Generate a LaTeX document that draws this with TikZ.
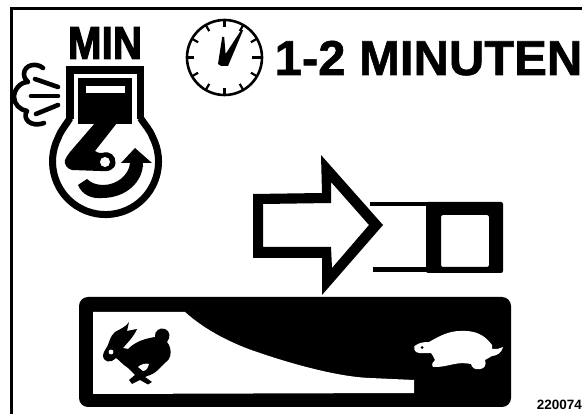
\documentclass[tikz,border=0pt]{standalone}
\usepackage{fontspec}
\setmainfont{Liberation Sans}
\newfontfamily\heavyfont[BoldFeatures={FakeBold=2.8}]{Liberation Sans}
\newfontfamily\midfont[BoldFeatures={FakeBold=1.2}]{Liberation Sans}
\begin{document}
\begin{tikzpicture}[x=1pt,y=-1pt,
  ink/.style={line width=4.6pt,draw=black,line cap=round,line join=round},
  clocktick/.style={line width=2.2pt,draw=black},
  boldtext/.style={inner sep=0pt,font=\bfseries}]
\useasboundingbox (0,0) rectangle (582,414);
\fill[white] (0,0) rectangle (582,414);
% frame
\draw[line width=3pt] (11.5,414) -- (11.5,8.5) -- (582,8.5);
% MIN
\node[inner sep=0pt,anchor=center,xscale=0.88] (mintext) at (105,43) {\heavyfont\bfseries\fontsize{46pt}{46pt}\selectfont MIN};
% engine outline
\draw[line width=7.5pt,line join=miter] (70,119) -- (70,70) -- (140.5,70) -- (140.5,119);
\draw[line width=7pt] (70,118) .. controls (66,125) and (61,130) .. (58.3,137.5)
  arc[start angle=207,end angle=-27,x radius=53,y radius=53]
  .. controls (150,130) and (145,125) .. (140.5,118);
\fill (78,78) rectangle (132,124);
\fill[white] (86,86) rectangle (125,93);
% rod and crank
\fill (95,123) -- (117,123) -- (95,151) .. controls (98,153) and (100,153) .. (102,153)
  .. controls (110,150) and (116,156) .. (115.5,163)
  .. controls (115,170) and (108,172) .. (100,171)
  -- (72,170) .. controls (67,169) and (64,164) .. (65,160)
  .. controls (66,157) and (68,155) .. (70,152) -- cycle;
\fill[white] (105,162) circle[radius=5];
% rotation arrow
\fill (78,185) .. controls (82,195) and (92,199) .. (102,198)
  .. controls (126,198) and (143,182) .. (143,163)
  -- (152,163) -- (135,148) -- (121,163) -- (130,163)
  .. controls (129,175) and (117,185) .. (103,185)
  .. controls (97,185) and (91,183) .. (87,179) -- cycle;
% exhaust
\draw[ink] (35,79) -- (58,87);
\draw[ink] (31,96) -- (58,96);
\draw[ink] (36,114) -- (58,105);
\draw[ink] (43,68) .. controls (36,62) and (24,65) .. (24,74)
  .. controls (24,78) and (26,80) .. (28,82)
  .. controls (20,82) and (14,90) .. (14,97)
  .. controls (14,104) and (20,110) .. (27,111)
  .. controls (22,118) and (30,128) .. (44,123);
% clock
\draw[line width=2.6pt] (224.5,57.5) circle[radius=37.5];
\foreach \a in {0,30,...,330}{
  \draw[clocktick] (224.5,57.5) ++(\a:37.5) -- ++(\a+180:7);
}
\draw[line width=3pt] (224.5,57.5) ++(0:37.5) -- ++(180:10);
\fill (218,64) -- (222.2,37) -- (224.2,37) -- (225.6,54) -- (241.5,29.5) -- (243,30.5) -- (228,66) -- (221,66) -- cycle;
% heading
\node[inner sep=0pt,anchor=base west] (heading) at (274.5,75) {\midfont\bfseries\fontsize{49pt}{49pt}\selectfont 1-2 MINUTEN};
% big arrow
\fill[even odd rule] (253,194) -- (322,193) -- (321,155) -- (383,225) -- (322,295) -- (322,258) -- (253,258) -- cycle
  (263,204) -- (331,203) -- (331,182) -- (369,225) -- (332,268) -- (331,247) -- (263,247) -- cycle;
% switch
\fill[even odd rule,rounded corners=2pt] (426,202) -- (503,202) -- (503,273) -- (426,273) -- cycle
  (441,215) -- (489,215) -- (489,267) -- (441,267) -- cycle;
\draw[line width=4.5pt] (370,204) -- (428,204);
\draw[line width=4.5pt] (373,269.5) -- (428,269.5);
% speed bar
\fill[rounded corners=9pt] (79,297) rectangle (511,407);
\fill[white] (93,312) -- (185,312) .. controls (205,330) and (232,344) .. (260,353)
  .. controls (295,365) and (340,377) .. (370,378) -- (414,380) -- (414,393) -- (93,394) -- cycle;
% rabbit
\fill (103,355) .. controls (104,350) and (108,347) .. (109,342) .. controls (111,336) and (113,334) .. (115,332)
  .. controls (120,329) and (126,327) .. (129,322) -- (127,331) -- (137,329) .. controls (133,338) and (127,343) .. (123,348)
  -- (128,349) .. controls (134,343) and (142,339) .. (155,337)
  .. controls (154,331) and (160,327) .. (165,329) .. controls (170,331) and (171,337) .. (167,342)
  .. controls (172,348) and (172,358) .. (166,362) .. controls (160,367) and (158,372) .. (150,375)
  -- (145,377) -- (152,382) -- (148,384.5) -- (140,380) -- (132,384) -- (129,380) -- (135,375)
  -- (128,368) .. controls (122,364) and (118,359) .. (116,358)
  .. controls (110,364) and (103,362) .. (103,355) -- cycle;
\fill[white] (111,352) circle[radius=2.4];
\fill[white] (138,367) .. controls (141,364) and (146,363) .. (149,364) .. controls (148,368) and (146,371) .. (143,371) -- cycle;
% turtle
\fill[white] (414.5,346) .. controls (420,342) and (425,342) .. (429,342)
  .. controls (438,337) and (448,331) .. (460,331) .. controls (475,330) and (485,335) .. (492,345)
  -- (492,349) .. controls (497,349) and (500,349) .. (503,347)
  .. controls (502,353) and (496,356) .. (492,356)
  -- (485,360) .. controls (487,365) and (484,369) .. (480,369) .. controls (475,370) and (472,368) .. (471,364)
  .. controls (460,362) and (455,364) .. (445,366) .. controls (440,367) and (436,367) .. (433,367)
  .. controls (431,364) and (433,362) .. (435,360) .. controls (433,356) and (432,354) .. (431,353)
  .. controls (425,353) and (420,354) .. (416,352) .. controls (414,351) and (414,348) .. (414.5,346) -- cycle;
\fill (422,347.5) circle[radius=1.5];
% figure number
\node[boldtext,anchor=base east] (fignum) at (582,410) {\fontsize{13.5pt}{13.5pt}\selectfont 220074};
\end{tikzpicture}
\end{document}
